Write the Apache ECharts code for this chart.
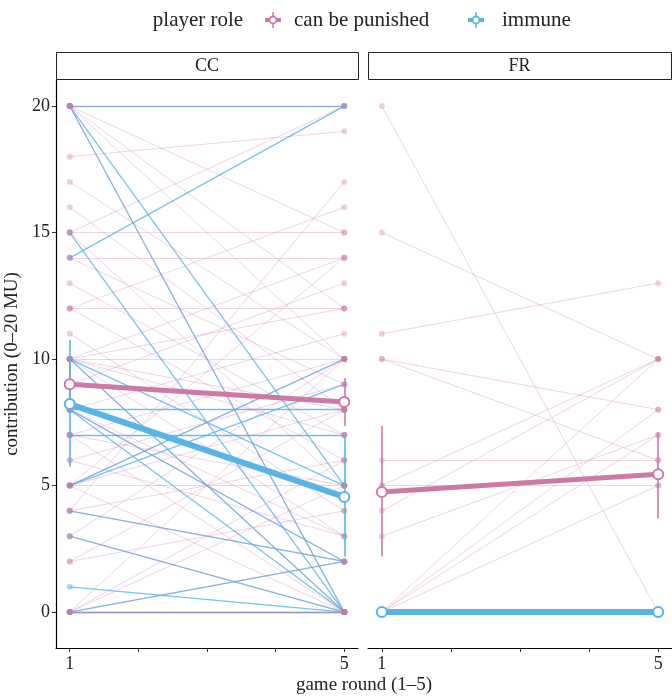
<!DOCTYPE html>
<html>
<head>
<meta charset="utf-8">
<title>Contribution by game round</title>
<script src="https://cdn.jsdelivr.net/npm/echarts@6.0.0/dist/echarts.min.js"></script>
</head>
<body style="margin:0;background:#fff;">
<div id="main" style="width:672px;height:696px;"></div>
<script type="text/javascript">
var roles = ['can be punished', 'immune'];
var panels = ['CC', 'FR'];
var roundTicks = [1, 2, 3, 4, 5];
var roundLabels = [1, 5];
var contribTicks = [0, 5, 10, 15, 20];

// single players, contribution in round 1 and in round 5
var ccPunishedR1 = [20,20,20,20,18,17,16,15,15,15,14,14,13,12,12,12,11,10,10,10,10,10,10,10,9,8,8,8,8,7,7,7,6,6,5,5,5,5,5,4,4,3,3,2,2,0,0,0,0,0,0,20,4,7];
var ccPunishedR5 = [12,15,20,10,19,10,8,15,5,20,14,9,7,12,6,16,4,10,14,3,8,0,12,7,13,8,3,2,11,10,0,5,9,3,5,10,0,14,8,17,6,10,0,4,8,0,10,5,6,2,0,0,2,7];
var ccImmuneR1 = [20,20,20,15,14,10,10,8,8,8,7,5,5,4,3,1,0,0,0];
var ccImmuneR5 = [20,0,5,0,20,0,5,8,0,2,7,10,9,2,0,0,0,2,0];
var frPunishedR1 = [20,15,11,10,10,6,5,5,4,3,0,0,0,0,0,0,0,0,0];
var frPunishedR5 = [0,10,13,8,6,6,10,5,10,7,10,8,7,5,0,0,0,0,0];
var frImmuneR1 = [0,0,0,0];
var frImmuneR5 = [0,0,0,0];

// group means with error bar ends, round 1 and round 5
var ccPunishedMean = [9.0, 8.3];
var ccPunishedLow = [7.9, 7.35];
var ccPunishedHigh = [10.1, 9.25];
var ccImmuneMean = [8.22, 4.55];
var ccImmuneLow = [5.75, 2.2];
var ccImmuneHigh = [10.75, 7.0];
var frPunishedMean = [4.75, 5.45];
var frPunishedLow = [2.2, 3.7];
var frPunishedHigh = [7.35, 7.1];
var frImmuneMean = [0, 0];
var frImmuneLow = [0, 0];
var frImmuneHigh = [0, 0];

var PINK = '#CC79A7';
var BLUE = '#56B4E9';
var FONT = '"Liberation Serif", "DejaVu Serif", serif';

function pairLines(r1, r5) {
    var out = [];
    for (var i = 0; i < r1.length; i++) {
        out.push({coords: [[1, r1[i]], [5, r5[i]]]});
    }
    return out;
}

function endPoints(r1, r5) {
    var out = [];
    for (var i = 0; i < r1.length; i++) {
        out.push([1, r1[i]]);
        out.push([5, r5[i]]);
    }
    return out;
}

function errBars(low, high) {
    return [
        {coords: [[1, low[0]], [1, high[0]]]},
        {coords: [[5, low[1]], [5, high[1]]]}
    ];
}

function panelSeries(idx, pR1, pR5, iR1, iR5, pMean, pLow, pHigh, iMean, iLow, iHigh) {
    return [
        {
            type: 'lines', coordinateSystem: 'cartesian2d', xAxisIndex: idx, yAxisIndex: idx,
            data: pairLines(iR1, iR5), z: 1, silent: true,
            lineStyle: {color: BLUE, width: 1.3, opacity: 0.8}
        },
        {
            type: 'lines', coordinateSystem: 'cartesian2d', xAxisIndex: idx, yAxisIndex: idx,
            data: pairLines(pR1, pR5), z: 2, silent: true,
            lineStyle: {color: PINK, width: 1, opacity: 0.32}
        },
        {
            type: 'scatter', xAxisIndex: idx, yAxisIndex: idx, z: 3, silent: true,
            data: endPoints(iR1, iR5), symbolSize: 6,
            itemStyle: {color: BLUE, opacity: 0.5}
        },
        {
            type: 'scatter', xAxisIndex: idx, yAxisIndex: idx, z: 3, silent: true,
            data: endPoints(pR1, pR5), symbolSize: 6,
            itemStyle: {color: PINK, opacity: 0.35}
        },
        {
            type: 'lines', coordinateSystem: 'cartesian2d', xAxisIndex: idx, yAxisIndex: idx,
            data: errBars(pLow, pHigh), z: 4, silent: true,
            lineStyle: {color: PINK, width: 1.6, opacity: 1}
        },
        {
            type: 'lines', coordinateSystem: 'cartesian2d', xAxisIndex: idx, yAxisIndex: idx,
            data: errBars(iLow, iHigh), z: 4, silent: true,
            lineStyle: {color: BLUE, width: 1.6, opacity: 1}
        },
        {
            name: roles[0], type: 'line', xAxisIndex: idx, yAxisIndex: idx, z: 5,
            data: [[1, pMean[0]], [5, pMean[1]]],
            symbol: 'circle', symbolSize: 10,
            itemStyle: {color: '#fff', borderColor: PINK, borderWidth: 2},
            lineStyle: {color: PINK, width: 5}
        },
        {
            name: roles[1], type: 'line', xAxisIndex: idx, yAxisIndex: idx, z: 6,
            data: [[1, iMean[0]], [5, iMean[1]]],
            symbol: 'circle', symbolSize: 10,
            itemStyle: {color: '#fff', borderColor: BLUE, borderWidth: 2},
            lineStyle: {color: BLUE, width: 6}
        }
    ];
}

function xAxisFor(idx) {
    return {
        type: 'value', gridIndex: idx, min: 0.8, max: 5.2,
        splitLine: {show: false},
        axisLine: {show: true, onZero: false, lineStyle: {color: '#000', width: 1.2}},
        axisTick: {show: true, length: 4, customValues: roundTicks, lineStyle: {color: '#333'}},
        axisLabel: {customValues: roundLabels, color: '#222', fontFamily: FONT, fontSize: 18, margin: 7}
    };
}

function yAxisFor(idx) {
    return {
        type: 'value', gridIndex: idx, min: -1.42, max: 21.03,
        show: idx === 0,
        name: idx === 0 ? 'contribution (0\u201320 MU)' : '',
        nameLocation: 'middle', nameGap: 34, nameRotate: 90,
        nameTextStyle: {color: '#222', fontFamily: FONT, fontSize: 19},
        splitLine: {show: false},
        axisLine: {show: true, onZero: false, lineStyle: {color: '#000', width: 1.2}},
        axisTick: {show: true, length: 4, customValues: contribTicks, lineStyle: {color: '#333'}},
        axisLabel: {customValues: contribTicks, color: '#222', fontFamily: FONT, fontSize: 18, margin: 6}
    };
}

function legendGlyph(cx, color) {
    return [
        {type: 'line', shape: {x1: cx - 8, y1: 20, x2: cx + 8, y2: 20}, style: {stroke: color, lineWidth: 4}},
        {type: 'line', shape: {x1: cx, y1: 12, x2: cx, y2: 28}, style: {stroke: color, lineWidth: 1.5}},
        {type: 'circle', shape: {cx: cx, cy: 20, r: 3.5}, style: {fill: '#fff', stroke: color, lineWidth: 1.8}}
    ];
}

function strip(x, w, label) {
    return [
        {type: 'rect', shape: {x: x + 0.5, y: 52.5, width: w, height: 27}, style: {fill: '#fff', stroke: '#222', lineWidth: 1}},
        {type: 'text', x: x + w / 2, y: 66, style: {text: label, font: '18px ' + FONT, fill: '#222', align: 'center', verticalAlign: 'middle'}}
    ];
}

var graphics = []
    .concat([{type: 'text', x: 198, y: 20, style: {text: 'player role', font: '21px ' + FONT, fill: '#222', align: 'center', verticalAlign: 'middle'}}])
    .concat(legendGlyph(273, PINK))
    .concat([{type: 'text', x: 294, y: 20, style: {text: roles[0], font: '21px ' + FONT, fill: '#222', align: 'left', verticalAlign: 'middle'}}])
    .concat(legendGlyph(476, BLUE))
    .concat([{type: 'text', x: 502, y: 20, style: {text: roles[1], font: '21px ' + FONT, fill: '#222', align: 'left', verticalAlign: 'middle'}}])
    .concat(strip(56, 302, panels[0]))
    .concat(strip(368, 303, panels[1]))
    .concat([{type: 'text', x: 364, y: 685, style: {text: 'game round (1\u20135)', font: '19px ' + FONT, fill: '#222', align: 'center', verticalAlign: 'middle'}}]);

var chart = echarts.init(document.getElementById('main'));
chart.setOption({
    animation: false,
    backgroundColor: '#fff',
    grid: [
        {left: 56, top: 80, width: 302, height: 568},
        {left: 368, top: 80, width: 304, height: 568}
    ],
    xAxis: [xAxisFor(0), xAxisFor(1)],
    yAxis: [yAxisFor(0), yAxisFor(1)],
    graphic: graphics,
    series: panelSeries(0, ccPunishedR1, ccPunishedR5, ccImmuneR1, ccImmuneR5,
            ccPunishedMean, ccPunishedLow, ccPunishedHigh, ccImmuneMean, ccImmuneLow, ccImmuneHigh)
        .concat(panelSeries(1, frPunishedR1, frPunishedR5, frImmuneR1, frImmuneR5,
            frPunishedMean, frPunishedLow, frPunishedHigh, frImmuneMean, frImmuneLow, frImmuneHigh))
});
</script>
</body>
</html>
